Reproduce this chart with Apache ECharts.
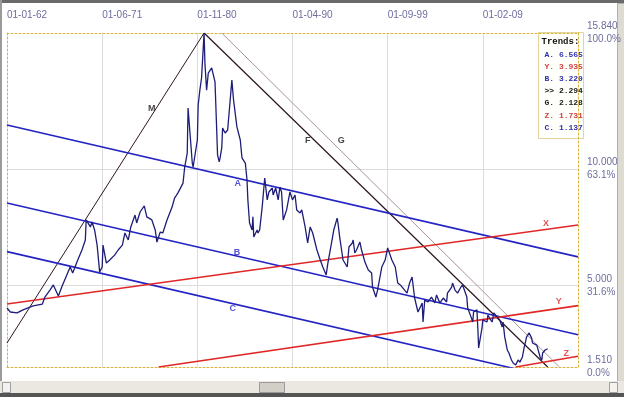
<!DOCTYPE html>
<html>
<head>
<meta charset="utf-8">
<script src="https://cdn.jsdelivr.net/npm/echarts@6/dist/echarts.min.js"></script>
<style>
html, body { margin: 0; padding: 0; background: #fff; }
#main { width: 624px; height: 397px; }
</style>
</head>
<body>
<div id="main"></div>
<script>
// x = months since 01-01-62, y = price
var priceMonths = [0, 4, 12, 19, 31, 42, 45, 51, 55, 61, 65, 71, 75, 78, 84, 89, 93, 94, 96, 99,
    101, 104, 107, 110, 113, 114, 118, 122, 128, 132, 137, 140, 144, 147, 152, 154, 158, 163, 166, 172,
    176, 178, 182, 185, 190, 196, 199, 203, 205, 209, 211, 214, 215, 217, 220, 221, 226, 227, 229, 231,
    234, 235, 237, 239, 241, 243, 247, 249, 250, 252, 253, 255, 256, 259, 262, 267, 269, 273, 275, 277,
    279, 283, 285, 286, 288, 291, 292, 293, 297, 298, 300, 303, 306, 309, 311, 315, 316, 319, 322, 324,
    326, 328, 332, 336, 339, 342, 344, 348, 350, 354, 357, 360, 363, 368, 372, 375, 379, 381, 386, 388,
    392, 393, 395, 399, 404, 406, 410, 411, 413, 415, 419, 421, 425, 429, 433, 434, 438, 440, 445, 449,
    452, 457, 461, 464, 467, 475, 478, 481, 484, 488, 493, 494, 496, 500, 504, 508, 510, 514, 518, 522,
    523, 528, 529, 532, 535, 539, 541, 546, 547, 551, 553, 554, 558, 559, 560, 564, 565, 570, 571, 573,
    576, 578, 582, 585, 588, 589, 591, 594, 596, 599, 601, 604, 607, 609, 612, 614, 617, 620, 623, 624,
    629, 630, 633, 635, 636, 639, 642];
var priceValues = [4.04, 3.87, 3.83, 3.96, 4.13, 4.21, 4.51, 4.81, 5.03, 4.56, 4.94, 5.46, 5.80, 5.54, 6.10, 6.53, 6.96, 7.82, 7.86, 7.52,
    7.73, 7.39, 6.74, 5.59, 5.80, 6.74, 5.97, 6.10, 6.32, 6.53, 6.74, 7.26, 6.96, 7.52, 8.03, 7.69, 8.16, 8.42, 7.95, 7.82,
    7.39, 6.87, 7.30, 7.26, 7.82, 8.37, 8.76, 8.98, 8.98, 9.40, 10.09, 10.69, 12.62, 12.67, 10.26, 10.09, 11.25, 12.75, 13.39, 13.91,
    15.84, 14.55, 13.39, 14.12, 14.12, 14.34, 13.74, 11.68, 10.61, 10.31, 10.48, 10.91, 11.76, 11.55, 11.68, 13.82, 12.97, 11.81, 11.76, 11.25,
    10.48, 10.26, 9.53, 8.68, 7.69, 7.39, 7.95, 7.09, 7.39, 7.26, 7.39, 8.37, 9.62, 8.68, 9.02, 9.19, 8.89, 9.19, 8.68, 9.23,
    9.02, 7.82, 8.25, 9.02, 8.68, 8.89, 8.25, 8.12, 8.25, 7.52, 6.83, 7.52, 7.26, 6.53, 6.10, 5.80, 5.46, 5.97, 6.96, 7.39,
    7.90, 7.69, 7.09, 6.10, 5.80, 6.66, 6.83, 6.96, 6.40, 6.53, 6.87, 6.53, 6.01, 5.67, 5.54, 4.94, 4.51, 4.81, 5.80, 6.10,
    6.62, 6.10, 5.80, 5.11, 5.03, 4.68, 5.11, 5.37, 4.47, 3.87, 4.26, 3.44, 4.38, 4.30, 4.51, 4.26, 4.60, 4.26, 4.47, 4.30,
    4.68, 4.94, 5.11, 4.81, 4.68, 4.94, 5.03, 4.51, 4.04, 3.66, 3.44, 3.87, 3.96, 3.23, 2.33, 3.18, 3.53, 3.44, 3.74, 3.61,
    3.44, 3.83, 3.66, 3.53, 3.23, 3.44, 2.80, 2.24, 2.11, 1.81, 1.68, 1.60, 1.81, 1.72, 1.94, 2.33, 2.80, 2.97, 2.75, 2.54,
    2.45, 2.33, 1.94, 1.81, 2.11, 2.24, 2.294];

var dateTicks = ['01-01-62', '01-06-71', '01-11-80', '01-04-90', '01-09-99', '01-02-09', ''];
var valueTicks = [1.51, 5, 10, 15.84];
var valueTickText = ['1.510', '5.000', '10.000', '15.840'];
var pctTickText = ['0.0%', '31.6%', '63.1%', '100.0%'];

// trend lines: [month, value] at both ends
var trendNames = ['M', 'F', 'G', 'A', 'B', 'C', 'X', 'Y', 'Z'];
var trendStart = [[0, 2.54], [234, 15.84], [255, 15.84], [0, 11.89], [0, 8.545], [0, 6.46], [0, 4.21], [180, 1.51], [604, 1.51]];
var trendEnd = [[234, 15.84], [642, 1.51], [656, 1.51], [678, 6.236], [678, 2.891], [639, 1.137], [678, 7.60], [678, 4.143], [678, 1.97]];
var trendLabelAt = [[172, 12.62], [357, 11.21], [397, 11.21], [274, 9.40], [273, 6.44], [268, 4.04], [640, 7.65], [655, 4.30], [664, 2.07]];
var trendColors = ['#2a1420', '#2a1420', '#a8949c', '#2424c4', '#2424c4', '#2424c4', '#e02828', '#e02828', '#e02828'];
var trendWidths = [1, 1.2, 1, 1.6, 1.6, 1.6, 1.6, 1.6, 1.6];
var labelColors = ['#111', '#111', '#111', '#2424c4', '#2424c4', '#2424c4', '#e02828', '#e02828', '#e02828'];

var legendText = ['A. 6.565', 'Y. 3.935', 'B. 3.220', '>> 2.294', 'G. 2.128', 'Z. 1.731', 'C. 1.137'];
var legendColors = ['#3030b0', '#d04040', '#3030b0', '#1a1a1a', '#1a1a1a', '#d04040', '#3030b0'];

var chart = echarts.init(document.getElementById('main'));
var axisText = '#6e6e9e';
var border = { show: true, onZero: false, lineStyle: { color: '#d9b43c', width: 1, type: [2, 2] } };

var series = [];
for (var i = 0; i < trendNames.length; i++) {
    series.push({
        name: trendNames[i], type: 'line', silent: true, showSymbol: false, z: 3,
        data: [trendStart[i], trendEnd[i]],
        lineStyle: { color: trendColors[i], width: trendWidths[i] }
    });
}
series.push({
    name: 'price', type: 'line', silent: true, showSymbol: false, z: 4,
    data: priceMonths.map(function (m, i) { return [m, priceValues[i]]; }),
    lineStyle: { color: '#1e1e78', width: 1.3 }
});
series.push({
    name: 'labels', type: 'scatter', symbolSize: 0, silent: true, z: 5,
    data: trendNames.map(function (n, i) {
        return {
            value: trendLabelAt[i], name: n,
            label: { show: true, position: 'inside', formatter: n, color: labelColors[i],
                fontSize: 9, fontWeight: 'bold', fontFamily: 'Liberation Sans' }
        };
    })
});

var legendLines = [{ type: 'text', left: 3, top: 5, style: { text: 'Trends:', fill: '#111', font: 'bold 9px "Liberation Mono"' } }];
legendText.forEach(function (t, i) {
    legendLines.push({ type: 'text', left: 6, top: 18 + i * 12.2,
        style: { text: t, fill: legendColors[i], font: 'bold 8px "Liberation Mono"' } });
});

var option = {
    animation: false,
    grid: { left: 7, right: 46, top: 33, bottom: 30 },
    xAxis: [{
        type: 'value', position: 'top', min: 0, max: 678, interval: 113,
        axisLine: border, axisTick: { show: false },
        axisLabel: { align: 'left', margin: 13, color: axisText, fontSize: 10, fontFamily: 'Liberation Sans',
            showMinLabel: true, showMaxLabel: false,
            formatter: function (v) { return dateTicks[Math.round(v / 113)]; } },
        splitLine: { show: true, showMinLine: false, showMaxLine: false, lineStyle: { color: '#dcdcdc' } }
    }, {
        type: 'value', position: 'bottom', min: 0, max: 678,
        axisLine: border, axisTick: { show: false }, axisLabel: { show: false }, splitLine: { show: false }
    }],
    yAxis: [{
        type: 'value', position: 'right', min: 1.51, max: 15.84,
        axisLine: border,
        axisTick: { show: false, customValues: valueTicks },
        axisLabel: { customValues: valueTicks, align: 'left', margin: 9, color: axisText, fontSize: 10,
            fontFamily: 'Liberation Sans', lineHeight: 13,
            formatter: function (v) {
                var k = 0;
                for (var j = 0; j < valueTicks.length; j++) if (Math.abs(valueTicks[j] - v) < 1e-6) k = j;
                return valueTickText[k] + '\n' + pctTickText[k];
            } },
        splitLine: { show: true, showMinLine: false, showMaxLine: false, lineStyle: { color: '#dcdcdc' } }
    }, {
        type: 'value', position: 'left', min: 1.51, max: 15.84,
        axisLine: border, axisTick: { show: false }, axisLabel: { show: false }, splitLine: { show: false }
    }],
    graphic: [
        { type: 'rect', left: 0, top: 0, shape: { width: 624, height: 3 }, style: { fill: '#6a6a6a' } },
        { type: 'rect', left: 0, top: 0, shape: { width: 2, height: 397 }, style: { fill: '#9a9a9a' } },
        { type: 'rect', left: 617, top: 3, shape: { width: 7, height: 394 }, style: { fill: '#dedbd3', stroke: '#b0b0b0', lineWidth: 1 } },
        { type: 'rect', left: 0, top: 381, shape: { width: 624, height: 12 }, style: { fill: '#ebe8e1' } },
        { type: 'rect', left: 2, top: 382, shape: { width: 8, height: 10 }, style: { fill: '#f4f2ee', stroke: '#a0a0a0', lineWidth: 1 } },
        { type: 'rect', left: 609, top: 382, shape: { width: 8, height: 10 }, style: { fill: '#f4f2ee', stroke: '#a0a0a0', lineWidth: 1 } },
        { type: 'rect', left: 259, top: 382, shape: { width: 25, height: 10 }, style: { fill: '#d2cfc8', stroke: '#9a9a9a', lineWidth: 1 } },
        { type: 'rect', left: 0, top: 393, shape: { width: 624, height: 4 }, style: { fill: '#555' } },
        {
            type: 'group', left: 538, top: 32, z: 10,
            children: [{ type: 'rect', shape: { width: 45, height: 106 },
                style: { fill: '#fffffc', stroke: '#e2d49a', lineWidth: 1 } }].concat(legendLines)
        }
    ],
    series: series
};
chart.setOption(option);
</script>
</body>
</html>
